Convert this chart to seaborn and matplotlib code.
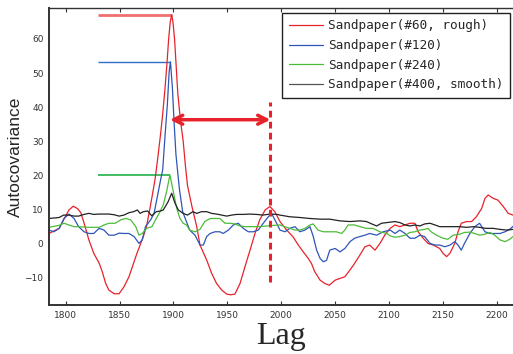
import numpy as np
import pandas as pd
import matplotlib
matplotlib.use("Agg")
import matplotlib.pyplot as plt
import seaborn as sns

# ---------------- data ----------------
red_lag = [1784.5, 1790, 1794, 1798, 1803, 1807, 1811, 1814, 1817, 1821.5, 1826, 1831, 1834, 1837, 1840,
           1845, 1849.5, 1854, 1858.7, 1863, 1866, 1869, 1872, 1875, 1878, 1880, 1883, 1885, 1888, 1890,
           1892, 1894, 1895.5, 1897, 1898.3, 1899.5, 1901, 1902.5, 1904, 1906.5, 1909, 1911, 1913, 1917,
           1921.5, 1924.6, 1930.8, 1935.4, 1940, 1944.7, 1949.4, 1953, 1957, 1961.7, 1966.3, 1971, 1975.6,
           1980, 1985, 1989.5, 1994, 1998.8, 2005, 2011, 2015.8, 2020.4, 2025, 2028, 2031, 2036, 2040.5,
           2044.5, 2050, 2054.5, 2059, 2063.8, 2068, 2073, 2077.6, 2082, 2087, 2091.6, 2096, 2101, 2105.5,
           2110, 2114.8, 2119.4, 2124, 2127, 2131.7, 2136, 2141, 2147, 2150, 2153.4, 2156.5, 2161, 2164,
           2167, 2172, 2176.6, 2181, 2186, 2189, 2192, 2196.7, 2201, 2206, 2210.6, 2215]
red_val = [2.9, 3.8, 4.4, 6.9, 9.8, 10.9, 10.2, 9.0, 6.0, 1.0, -2.9, -5.8, -8.4, -11.7, -13.7,
           -14.8, -14.8, -12.8, -9.8, -5.8, -3.0, -0.5, 2.0, 5.0, 10.0, 13.5, 19.0, 24.0, 32.0, 38.0,
           45.0, 53.0, 60.0, 65.0, 67.1, 65.0, 60.0, 52.0, 44.0, 36.0, 30.0, 23.0, 17.0, 11.0,
           5.0, -0.5, -4.9, -8.8, -11.8, -13.7, -14.9, -15.1, -14.9, -11.8, -6.9, -2.0, 2.9,
           6.9, 9.8, 10.8, 9.3, 6.4, 3.9, 1.9, -0.5, -2.5, -4.4, -5.9, -8.3, -10.8, -11.8,
           -12.3, -10.8, -10.3, -9.8, -7.8, -5.9, -3.4, -1.0, -0.5, -2.0, 0.0, 2.4, 4.4, 5.4,
           4.9, 5.4, 5.9, 5.9, 3.4, 1.5, 0.0, -0.5, -1.5, -2.9, -3.9, -2.9, 0.0, 3.4,
           5.9, 6.4, 6.4, 7.8, 10.3, 13.2, 14.2, 13.2, 12.7, 10.8, 8.8, 8.3]

blue_lag = [1784.5, 1789, 1794, 1798.4, 1803, 1807.7, 1812, 1817, 1821.6, 1826, 1831, 1835.5, 1840, 1845,
            1849.5, 1854, 1858.7, 1863.4, 1868, 1871, 1874, 1878.8, 1882, 1885, 1888, 1890, 1892, 1894.3,
            1896, 1897.2, 1899, 1900.5, 1902.3, 1905.4, 1908.5, 1912, 1915, 1920, 1924.6, 1927.7, 1930.8,
            1934, 1938.5, 1943, 1946, 1951, 1955.5, 1960, 1964.8, 1969.4, 1974, 1978.7, 1983.3, 1988, 1991,
            1995.7, 1998.8, 2003.4, 2008, 2012.7, 2017.3, 2022, 2026.6, 2029.7, 2032.8, 2036, 2039, 2042,
            2045, 2050, 2054.5, 2059, 2063.8, 2068, 2073, 2077.6, 2082, 2088.5, 2094.6, 2101, 2105.5, 2110,
            2114.8, 2119.4, 2124, 2128.6, 2133, 2138, 2142.6, 2147, 2151.8, 2156.5, 2161, 2164, 2167, 2170,
            2175, 2179.6, 2184, 2189, 2193.6, 2198, 2203, 2207.6, 2212, 2215]
blue_val = [3.9, 3.4, 4.4, 7.3, 8.6, 7.3, 4.9, 3.4, 2.9, 2.9, 4.4, 3.9, 2.4, 2.4,
            3.0, 2.9, 2.9, 2.0, 0.0, 1.0, 4.9, 6.9, 8.8, 13.7, 18.6, 21.6, 30.9, 40.7,
            50.5, 53.3, 45.6, 35.8, 26.0, 16.2, 9.3, 6.4, 3.9, 2.4, -0.5, -0.5, 2.0,
            2.9, 3.4, 3.4, 2.9, 3.9, 5.4, 5.9, 4.4, 3.4, 3.4, 3.9, 5.9, 7.8, 8.8,
            5.9, 3.9, 3.4, 4.4, 4.9, 3.4, 3.9, 4.9, 2.0, -2.0, -4.4, -5.4, -5.0,
            -2.0, -1.5, -2.5, -1.5, 0.5, 1.5, 2.0, 2.4, 2.9, 2.4, 3.4, 3.9, 2.9, 3.9,
            2.9, 1.5, 1.5, 2.4, 2.0, 0.0, -0.5, -0.5, -1.0, -0.5, 0.5, -0.5, -2.0, 0.0,
            2.9, 4.9, 5.9, 3.4, 2.9, 2.9, 2.9, 3.4, 4.1, 5.0]

green_lag = [1784.5, 1794, 1798.4, 1803, 1807.7, 1812, 1821, 1831, 1835.5, 1840, 1846, 1851, 1855.7,
             1860.3, 1865, 1868, 1871, 1875, 1880, 1884, 1887.5, 1890.5, 1893.6, 1896.7, 1899.8, 1903,
             1906, 1909, 1912, 1915, 1920, 1924.6, 1929, 1934, 1938.5, 1943, 1947.8, 1952.4, 1957,
             1961.7, 1966.3, 1971, 1980, 1989.5, 1998.8, 2003, 2008, 2012.7, 2017, 2022, 2026.6, 2029.7,
             2034, 2039, 2045, 2051, 2056, 2059, 2062, 2068, 2073, 2079, 2085, 2091.6, 2098, 2101,
             2105.5, 2110, 2114.8, 2119.4, 2124, 2128.6, 2133, 2136, 2139, 2144, 2150, 2154.6, 2159.5,
             2165.7, 2170, 2175, 2179.6, 2184, 2189, 2193.6, 2198, 2203, 2207.6, 2212, 2215]
green_val = [4.7, 5.3, 5.9, 5.4, 4.9, 4.9, 4.7, 4.7, 5.4, 5.9, 5.9, 6.9, 7.3,
             6.9, 4.9, 2.4, 2.9, 4.4, 4.9, 7.3, 9.3, 11.3, 15.2, 20.1, 15.2, 10.3,
             7.3, 5.9, 5.4, 3.9, 3.4, 4.1, 6.4, 7.3, 7.3, 7.3, 5.9, 5.9, 5.7,
             5.1, 4.9, 4.9, 4.9, 5.2, 5.4, 4.9, 4.4, 3.9, 3.9, 4.4, 5.4, 5.7,
             3.9, 3.4, 3.4, 3.4, 2.9, 3.9, 5.4, 5.4, 4.9, 4.4, 4.4, 3.4, 2.9, 2.2,
             1.8, 2.0, 2.4, 3.2, 3.4, 3.9, 4.1, 4.4, 3.4, 2.4, 1.5, 1.2, 2.4,
             2.7, 3.2, 3.3, 2.9, 2.4, 2.7, 3.2, 2.4, 1.0, 0.5, 1.2, 2.0]

black_lag = [1784.5, 1794, 1798, 1803, 1807.7, 1812, 1817, 1821.6, 1826, 1831, 1840, 1845, 1849.5, 1854,
             1858.7, 1863, 1866.5, 1869, 1872, 1876, 1879.8, 1884, 1888, 1890.5, 1895, 1898.3, 1901.4,
             1904.5, 1909, 1913, 1918, 1921.6, 1926, 1930.8, 1935.4, 1940, 1944.7, 1949.4, 1954, 1958.7,
             1964.8, 1971, 1977, 1983, 1989.5, 1995.7, 1998.8, 2008, 2017, 2026.6, 2036, 2045, 2054.5,
             2063.8, 2073, 2079, 2084, 2088.5, 2093, 2098, 2105.5, 2110, 2114.8, 2119.4, 2124, 2128.6,
             2133, 2138, 2142.6, 2147, 2153, 2159.5, 2165.7, 2172, 2178, 2184, 2190, 2196.7, 2203, 2209, 2215]
black_val = [7.3, 7.6, 8.3, 8.3, 8.0, 8.0, 8.5, 8.8, 8.5, 8.6, 8.6, 8.4, 8.0, 8.3,
             9.0, 9.3, 9.8, 8.8, 9.3, 9.5, 8.1, 9.3, 9.5, 9.8, 12.2, 14.7, 11.8,
             9.8, 8.8, 8.3, 9.3, 8.8, 9.3, 9.3, 8.8, 8.6, 8.3, 8.0, 8.3, 8.5,
             8.5, 8.6, 8.5, 8.3, 8.6, 8.5, 8.3, 7.8, 7.6, 7.3, 7.1, 7.1, 6.6,
             6.4, 6.6, 6.4, 5.7, 5.1, 5.9, 6.1, 6.4, 6.1, 5.4, 5.1, 5.4, 5.1,
             5.7, 5.9, 5.4, 4.9, 4.9, 4.9, 4.9, 4.7, 4.9, 4.7, 4.4, 4.4, 4.1, 3.9, 4.1]

labels = ["Sandpaper(#60, rough)", "Sandpaper(#120)", "Sandpaper(#240)", "Sandpaper(#400, smooth)"]
colors = ["#e8222a", "#2f55b8", "#4dbb3a", "#222222"]

# peak reference lines
peak_start = 1829.5
peak_lags = [1898.3, 1897.2, 1896.7]
peak_vals = [67.1, 53.3, 20.1]

# period annotation
arrow_from = 1896.7
arrow_to = 1990.0
arrow_y = 36.3
dash_lag = 1990.0
dash_range = [-11.3, 41.6]

x_ticks = [1800, 1850, 1900, 1950, 2000, 2050, 2100, 2150, 2200]
y_ticks = [-10, 0, 10, 20, 30, 40, 50, 60]

# ---------------- plot ----------------
sns.set_style("ticks")
plt.rcParams["font.family"] = ["DejaVu Sans"]

fig = plt.figure(figsize=(5.13, 3.54), dpi=100)
ax = fig.add_axes([49 / 513, 1 - 305 / 354, (513 - 49) / 513, (305 - 8) / 354])

series = [(red_lag, red_val), (blue_lag, blue_val), (green_lag, green_val), (black_lag, black_val)]
for (lx, ly), lab, col in zip(series, labels, colors):
    df = pd.DataFrame({"Lag": lx, "Autocovariance": ly})
    sns.lineplot(data=df, x="Lag", y="Autocovariance", ax=ax, color=col, lw=0.9,
                 label=lab, estimator=None, sort=False)

# peak lines
ax.hlines(peak_vals[0], peak_start, peak_lags[0], color="#f07070", lw=2.0, zorder=1)
ax.hlines(peak_vals[1], peak_start, peak_lags[1], color="#2f6fc8", lw=1.0, zorder=1)
ax.hlines(peak_vals[2], peak_start, peak_lags[2], color="#22b04a", lw=1.2, zorder=1)

# arrow and dashed line
ax.annotate("", xy=(arrow_from, arrow_y), xytext=(arrow_to, arrow_y),
            arrowprops=dict(arrowstyle="<->", color="#e8222a", lw=2.5, mutation_scale=16,
                            shrinkA=0, shrinkB=0))
ax.plot([dash_lag, dash_lag], dash_range, color="#e8222a", lw=2.2, ls=(0, (2.2, 1.4)))

ax.set_xlim(1784.5, 2215)
ax.set_ylim(-18.1, 69.1)
ax.set_xticks(x_ticks)
ax.set_yticks(y_ticks)
ax.tick_params(axis="both", direction="in", length=3, width=0.8, labelsize=6.5,
               colors="#333333", pad=4)
ax.tick_params(axis="x", top=True, labeltop=False)
ax.tick_params(axis="y", left=False)

for s in ["left", "bottom", "top"]:
    ax.spines[s].set_color("#333333")
    ax.spines[s].set_linewidth(1.4)
ax.spines["top"].set_linewidth(1.0)
ax.spines["right"].set_visible(False)

ax.set_xlabel("Lag", fontfamily="Liberation Serif", fontsize=23, labelpad=2)
ax.set_ylabel("Autocovariance", fontfamily="Liberation Sans", fontsize=12.5, labelpad=1)

leg = ax.legend(loc="upper right", bbox_to_anchor=(0.994, 0.983), frameon=True, fancybox=False,
                prop={"family": "DejaVu Sans Mono", "size": 9.2}, handlelength=2.7,
                handletextpad=0.4, labelspacing=0.52, borderpad=0.5, borderaxespad=0)
leg.get_frame().set_edgecolor("#222222")
leg.get_frame().set_linewidth(1.0)
leg.get_frame().set_alpha(1)
for h in leg.get_lines():
    h.set_linewidth(0.9)
leg.get_lines()[3].set_color("#555555")

fig.savefig("out.png", dpi=100)
